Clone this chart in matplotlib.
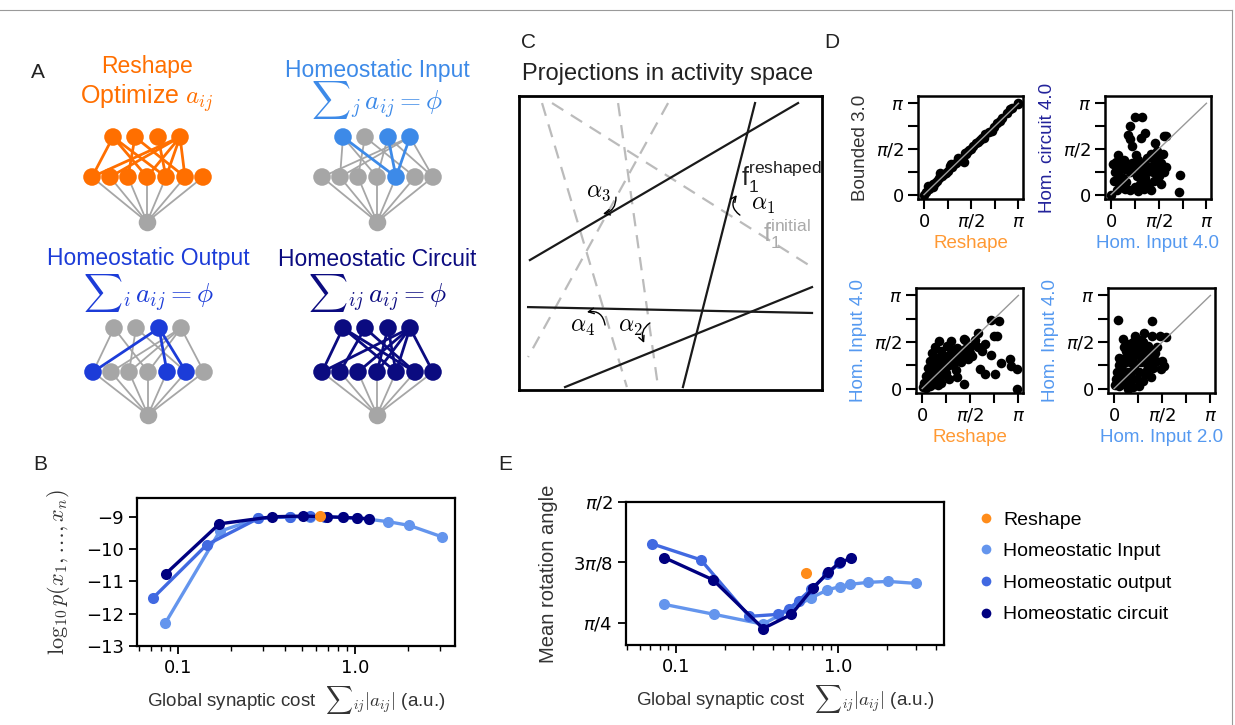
import numpy as np
import matplotlib.pyplot as plt
from matplotlib.lines import Line2D
from matplotlib.ticker import NullFormatter

plt.rcParams['font.family'] = ['Liberation Sans', 'DejaVu Sans']
plt.rcParams['mathtext.fontset'] = 'cm'

W, H = 1235, 725
PI = np.pi

# colours
c_reshape = '#ff8c1a'
c_input = 'cornflowerblue'
c_output = 'royalblue'
c_circuit = 'navy'
net_colors = ['#ff6f00', '#3d8ae8', '#1c3cd8', '#0b0b80']
gray_node = '#a6a6a6'

# ---------------- panel A: network sketches (pixel coords) ----------------
net_titles = ['Reshape', 'Homeostatic Input', 'Homeostatic Output', 'Homeostatic Circuit']
net_rules = [r'Optimize $a_{ij}$', r'${\sum}_j\, a_{ij} = \phi$',
             r'${\sum}_i\, a_{ij} = \phi$', r'${\sum}_{ij}\, a_{ij} = \phi$']
net_cx = [147, 377, 148, 377]
net_title_y = [66, 70, 259, 259]
net_rule_y = [98, 100, 293, 293]
net_top_y = [137, 137, 328, 328]
net_mid_y = [177, 177, 372, 372]
net_bot_y = [222, 222, 415, 415]
top_dx = [-34, -12, 11, 33]
mid_dx = [-55, -37, -19, 0, 19, 38, 56]
# coloured nodes (indices of top / middle row)
net_top_on = [[0, 1, 2, 3], [0, 2, 3], [2], [0, 1, 2, 3]]
net_mid_on = [[0, 1, 2, 3, 4, 5, 6], [4], [0, 4, 5], [0, 1, 2, 3, 4, 5, 6]]
# edges (top index, middle index)
net_gray_edges = [[],
                  [(0, 1), (0, 3), (1, 2), (1, 5), (2, 3), (2, 6), (3, 0), (3, 1), (3, 6)],
                  [(0, 0), (0, 3), (1, 2), (1, 5), (3, 1), (3, 2), (3, 3), (3, 6)],
                  []]
net_col_edges = [[(0, 0), (0, 3), (0, 4), (1, 2), (1, 5), (2, 4), (3, 0), (3, 1), (3, 3), (3, 4), (3, 5)],
                 [(0, 4), (2, 4), (3, 4)],
                 [(2, 0), (2, 4), (2, 5)],
                 [(0, 0), (0, 4), (0, 5), (1, 1), (1, 5), (2, 3), (2, 4), (3, 0), (3, 2), (3, 3), (3, 4), (3, 6)]]

# ---------------- panel C: projection lines (axes fractions) ----------------
solid_lines = [((0.036, 0.442), (0.921, 0.976)),
               ((0.779, 0.976), (0.541, 0.010)),
               ((0.030, 0.282), (0.967, 0.262)),
               ((0.152, 0.010), (0.967, 0.350))]
dashed_lines = [((0.076, 0.976), (0.356, 0.010)),
                ((0.109, 0.976), (0.967, 0.418)),
                ((0.327, 0.976), (0.459, 0.010)),
                ((0.492, 0.976), (0.030, 0.112))]
alpha_labels = [r'$\alpha_3$', r'$\alpha_1$', r'$\alpha_4$', r'$\alpha_2$']
alpha_pos = [(0.261, 0.675), (0.805, 0.629), (0.208, 0.214), (0.366, 0.214)]
alpha_arrow_from = [(0.320, 0.656), (0.729, 0.595), (0.284, 0.221), (0.432, 0.228)]
alpha_arrow_to = [(0.277, 0.599), (0.719, 0.663), (0.224, 0.265), (0.413, 0.160)]
alpha_rad = [-0.4, -0.5, 0.5, 0.4]

# ---------------- panel D: angles, in units of pi ----------------
d1_x = [0.00, 0.02, 0.04, 0.05, 0.07, 0.09, 0.10, 0.12, 0.14, 0.16,
        0.17, 0.19, 0.21, 0.23, 0.25, 0.27, 0.29, 0.30, 0.32, 0.34,
        0.36, 0.38, 0.40, 0.42, 0.43, 0.44, 0.46, 0.48, 0.50, 0.52,
        0.55, 0.57, 0.59, 0.61, 0.63, 0.65, 0.69, 0.72, 0.74, 0.77,
        0.80, 0.83, 0.88, 0.91, 0.93, 0.99, 1.00]
d1_y = [0.00, 0.03, 0.09, 0.06, 0.10, 0.08, 0.12, 0.13, 0.15, 0.18,
        0.24, 0.20, 0.23, 0.24, 0.26, 0.31, 0.33, 0.30, 0.33, 0.35,
        0.40, 0.38, 0.39, 0.36, 0.46, 0.44, 0.47, 0.49, 0.50, 0.53,
        0.56, 0.58, 0.60, 0.62, 0.62, 0.66, 0.69, 0.70, 0.74, 0.78,
        0.81, 0.84, 0.89, 0.94, 0.95, 0.99, 1.00]

d2_x = [0.25, 0.32, 0.20, 0.18, 0.36, 0.20, 0.31, 0.22, 0.55, 0.58,
        0.07, 0.26, 0.46, 0.03, 0.72, 0.71, 0.00,
        0.02, 0.05, 0.10, 0.14, 0.04, 0.08, 0.12, 0.15, 0.18, 0.20,
        0.22, 0.25, 0.28, 0.30, 0.32, 0.35, 0.38, 0.40, 0.42, 0.45,
        0.48, 0.50, 0.52, 0.48, 0.44, 0.36, 0.30, 0.25, 0.20, 0.15,
        0.10, 0.28, 0.35, 0.40, 0.45, 0.50, 0.55, 0.52, 0.42, 0.33,
        0.27, 0.16, 0.08, 0.06, 0.38, 0.46, 0.54, 0.58]
d2_y = [0.85, 0.85, 0.75, 0.65, 0.68, 0.61, 0.62, 0.53, 0.64, 0.64,
        0.43, 0.43, 0.56, 0.15, 0.21, 0.03, 0.00,
        0.33, 0.36, 0.30, 0.38, 0.25, 0.22, 0.18, 0.28, 0.33, 0.25,
        0.35, 0.30, 0.38, 0.28, 0.22, 0.35, 0.40, 0.30, 0.45, 0.38,
        0.28, 0.42, 0.35, 0.48, 0.25, 0.18, 0.12, 0.08, 0.05, 0.06,
        0.08, 0.04, 0.06, 0.12, 0.15, 0.20, 0.25, 0.12, 0.05, 0.30,
        0.20, 0.14, 0.12, 0.05, 0.25, 0.32, 0.45, 0.30]

d3_x = [0.72, 0.80, 0.58, 0.75, 0.78, 0.43, 0.72, 0.91, 0.82, 0.92,
        0.99, 0.60, 0.65, 0.76, 0.36, 0.44, 0.99,
        0.18, 0.30, 0.13, 0.26, 0.10, 0.20, 0.30, 0.36, 0.08, 0.15,
        0.22, 0.28, 0.34, 0.40, 0.45, 0.50, 0.55, 0.06, 0.12, 0.18,
        0.24, 0.30, 0.38, 0.44, 0.50, 0.04, 0.10, 0.15, 0.20, 0.26,
        0.32, 0.40, 0.02, 0.06, 0.10, 0.14, 0.20, 0.25, 0.01, 0.04,
        0.08, 0.12, 0.16, 0.20, 0.48, 0.52, 0.35, 0.62, 0.58, 0.65,
        0.28, 0.08, 0.45, 0.55]
d3_y = [0.74, 0.72, 0.60, 0.56, 0.56, 0.53, 0.36, 0.32, 0.27, 0.24,
        0.21, 0.21, 0.16, 0.16, 0.12, 0.05, -0.01,
        0.51, 0.51, 0.45, 0.46, 0.38, 0.40, 0.42, 0.44, 0.30, 0.33,
        0.35, 0.36, 0.38, 0.40, 0.42, 0.45, 0.48, 0.22, 0.25, 0.28,
        0.30, 0.30, 0.32, 0.36, 0.38, 0.14, 0.16, 0.20, 0.22, 0.24,
        0.25, 0.28, 0.06, 0.08, 0.10, 0.12, 0.14, 0.17, 0.02, 0.01,
        0.03, 0.05, 0.04, 0.06, 0.32, 0.35, 0.20, 0.40, 0.45, 0.48,
        0.10, 0.19, 0.52, 0.52]

d4_x = [0.04, 0.39, 0.31, 0.39, 0.48, 0.54, 0.09, 0.52, 0.49, 0.38,
        0.26, 0.14, 0.05,
        0.10, 0.15, 0.20, 0.25, 0.30, 0.35, 0.12, 0.18, 0.24, 0.30,
        0.36, 0.42, 0.45, 0.08, 0.14, 0.20, 0.26, 0.32, 0.38, 0.44,
        0.05, 0.10, 0.16, 0.22, 0.28, 0.34, 0.40, 0.03, 0.08, 0.14,
        0.20, 0.26, 0.32, 0.02, 0.06, 0.12, 0.18, 0.24, 0.30, 0.01,
        0.05, 0.10, 0.16, 0.20, 0.34, 0.42, 0.50, 0.12, 0.28, 0.22]
d4_y = [0.74, 0.72, 0.60, 0.56, 0.56, 0.55, 0.53, 0.24, 0.21, 0.12,
        0.03, 0.00, 0.33,
        0.45, 0.48, 0.50, 0.48, 0.50, 0.46, 0.40, 0.42, 0.40, 0.42,
        0.40, 0.38, 0.45, 0.32, 0.35, 0.34, 0.36, 0.34, 0.32, 0.30,
        0.25, 0.27, 0.28, 0.26, 0.28, 0.26, 0.22, 0.18, 0.20, 0.18,
        0.20, 0.18, 0.16, 0.10, 0.12, 0.10, 0.12, 0.10, 0.08, 0.04,
        0.03, 0.05, 0.05, 0.02, 0.20, 0.28, 0.30, 0.14, 0.52, 0.56]

d_panels = [(d1_x, d1_y, 'Reshape', 'Bounded 3.0'),
            (d2_x, d2_y, 'Hom. Input 4.0', 'Hom. circuit 4.0'),
            (d3_x, d3_y, 'Reshape', 'Hom. Input 4.0'),
            (d4_x, d4_y, 'Hom. Input 2.0', 'Hom. Input 4.0')]
d_label_colors = {'Reshape': '#ff9933', 'Bounded 3.0': '#333333',
                  'Hom. Input 4.0': '#5599f0', 'Hom. Input 2.0': '#5599f0',
                  'Hom. circuit 4.0': '#22229a'}

# ---------------- panel B: log-likelihood vs cost ----------------
b_in_x = [0.0845, 0.172, 0.284, 0.43, 0.56, 0.68, 0.86, 1.02, 1.2, 1.53, 2.03, 3.09]
b_in_y = [-12.30, -9.45, -9.05, -9.0, -9.0, -9.0, -9.02, -9.05, -9.08, -9.15, -9.27, -9.62]
b_out_x = [0.072, 0.145, 0.284, 0.43, 0.56, 0.68]
b_out_y = [-11.52, -9.87, -9.05, -9.0, -8.99, -9.0]
b_circ_x = [0.085, 0.171, 0.341, 0.51, 0.69, 0.85, 1.02, 1.2]
b_circ_y = [-10.77, -9.22, -9.0, -8.98, -9.0, -9.02, -9.04, -9.06]
b_res_x = [0.634]
b_res_y = [-8.98]

# ---------------- panel E: rotation angle vs cost ----------------
e_in_x = [0.085, 0.173, 0.345, 0.676, 0.859, 1.023, 1.178, 1.53, 2.03, 3.03]
e_in_y = [0.906, 0.841, 0.777, 0.946, 1.000, 1.021, 1.036, 1.049, 1.055, 1.042]
e_out_x = [0.0712, 0.143, 0.2835, 0.4275, 0.499, 0.573, 0.685, 0.859, 1.013]
e_out_y = [1.300, 1.195, 0.828, 0.841, 0.878, 0.931, 1.006, 1.103, 1.172]
e_circ_x = [0.085, 0.170, 0.3455, 0.516, 0.702, 0.867, 1.023, 1.195]
e_circ_y = [1.210, 1.065, 0.749, 0.841, 1.013, 1.114, 1.178, 1.204]
e_res_x = [0.638]
e_res_y = [1.107]

legend_labels = ['Reshape', 'Homeostatic Input', 'Homeostatic output', 'Homeostatic circuit']
legend_colors = [c_reshape, c_input, c_output, c_circuit]


def fig_rect(x0, y0, x1, y1):
    return [x0 / W, 1 - y1 / H, (x1 - x0) / W, (y1 - y0) / H]


def dejavu_ticks(ax, size):
    for lab in ax.get_xticklabels() + ax.get_yticklabels():
        lab.set_fontfamily('DejaVu Sans')
        lab.set_fontsize(size)


fig = plt.figure(figsize=(W / 100, H / 100), dpi=100)

# thin frame at top and right
fig.add_artist(Line2D([0, 1232 / W], [1 - 10 / H, 1 - 10 / H], color='#9a9a9a', lw=0.8))
fig.add_artist(Line2D([1232 / W, 1232 / W], [0, 1 - 10 / H], color='#9a9a9a', lw=0.8))

# panel letters
for lab, (px, py) in zip('ABCDE', [(38, 72), (40, 465), (528, 42), (832, 42), (505, 465)]):
    fig.text(px / W, 1 - py / H, lab, fontsize=15, color='#222222', ha='center', va='center')

# ---------------- A ----------------
ax_a = fig.add_axes(fig_rect(0, 30, 500, 450))
ax_a.set_xlim(0, 500)
ax_a.set_ylim(450, 30)
ax_a.axis('off')
for k in range(4):
    cx, col = net_cx[k], net_colors[k]
    tx = [cx + d for d in top_dx]
    mx = [cx + d for d in mid_dx]
    ty, my, by = net_top_y[k], net_mid_y[k], net_bot_y[k]
    for x in mx:
        ax_a.plot([x, cx], [my, by], color=gray_node, lw=1.3, zorder=1)
    for i, j in net_gray_edges[k]:
        ax_a.plot([tx[i], mx[j]], [ty, my], color=gray_node, lw=1.3, zorder=1)
    for i, j in net_col_edges[k]:
        ax_a.plot([tx[i], mx[j]], [ty, my], color=col, lw=2.0, zorder=2)
    tc = [col if i in net_top_on[k] else gray_node for i in range(len(tx))]
    mc = [col if j in net_mid_on[k] else gray_node for j in range(len(mx))]
    ax_a.scatter(tx, [ty] * len(tx), s=160, c=tc, zorder=3, linewidths=0)
    ax_a.scatter(mx, [my] * len(mx), s=160, c=mc, zorder=3, linewidths=0)
    ax_a.scatter([cx], [by], s=160, c=gray_node, zorder=3, linewidths=0)
    ax_a.text(cx, net_title_y[k], net_titles[k], color=col, fontsize=16.5,
              ha='center', va='center')
    rule_size = 18 if k == 0 else 19.5
    ax_a.text(cx, net_rule_y[k], net_rules[k], color=col, fontsize=rule_size,
              ha='center', va='center')

# ---------------- C ----------------
ax_c = fig.add_axes(fig_rect(519, 96, 822, 390))
ax_c.set_xlim(0, 1)
ax_c.set_ylim(0, 1)
ax_c.set_xticks([])
ax_c.set_yticks([])
for sp in ax_c.spines.values():
    sp.set_linewidth(2)
for (x0, y0), (x1, y1) in dashed_lines:
    ax_c.plot([x0, x1], [y0, y1], color='#bbbbbb', lw=1.6, ls=(0, (6, 4)))
for (x0, y0), (x1, y1) in solid_lines:
    ax_c.plot([x0, x1], [y0, y1], color='#1a1a1a', lw=1.6)
for lab, pos, a0, a1, rad in zip(alpha_labels, alpha_pos, alpha_arrow_from,
                                 alpha_arrow_to, alpha_rad):
    ax_c.text(pos[0], pos[1], lab, fontsize=17, ha='center', va='center')
    ax_c.annotate('', xy=a1, xytext=a0,
                  arrowprops=dict(arrowstyle='->', lw=1.0, color='k',
                                  connectionstyle='arc3,rad=%s' % rad,
                                  shrinkA=0, shrinkB=0))
ax_c.text(0.733, 0.725, r'$\mathregular{f_1^{reshaped}}$', fontsize=18, color='#222222',
          ha='left', va='center')
ax_c.text(0.806, 0.531, r'$\mathregular{f_1^{initial}}$', fontsize=18, color='#aaaaaa',
          ha='left', va='center')
fig.text(668 / W, 1 - 74 / H, 'Projections in activity space', fontsize=17,
         color='#222222', ha='center', va='center')

# ---------------- D ----------------
d_rects = [fig_rect(918, 96, 1023, 199), fig_rect(1105, 96, 1211, 199),
           fig_rect(916, 288, 1023, 393), fig_rect(1108, 288, 1215, 393)]
for rect, (xs, ys, xl, yl) in zip(d_rects, d_panels):
    ax = fig.add_axes(rect)
    ax.scatter(np.array(xs) * PI, np.array(ys) * PI, s=48, color='k', linewidths=0, zorder=2)
    ax.plot([0, PI], [0, PI], color='#999999', lw=1.0, zorder=3)
    ax.set_xlim(-0.2, PI + 0.15)
    ax.set_ylim(-0.15, PI + 0.25)
    ticks = [0, PI / 4, PI / 2, 3 * PI / 4, PI]
    ticklabels = ['0', '', r'$\pi/2$', '', r'$\pi$']
    ax.set_xticks(ticks)
    ax.set_yticks(ticks)
    ax.set_xticklabels(ticklabels, math_fontfamily='dejavusans')
    ax.set_yticklabels(ticklabels, math_fontfamily='dejavusans')
    dejavu_ticks(ax, 13)
    ax.tick_params(length=7, width=1.5, direction='out', pad=3)
    for sp in ax.spines.values():
        sp.set_linewidth(1.8)
    ax.set_xlabel(xl, fontsize=13.5, color=d_label_colors[xl], labelpad=3)
    ax.set_ylabel(yl, fontsize=13.5, color=d_label_colors[yl], labelpad=5)

# ---------------- B and E ----------------
cost_label = r'Global synaptic cost  ${\sum}_{ij}|a_{ij}|$ (a.u.)'


def style_cost_axis(ax, xlim):
    ax.set_xscale('log')
    ax.set_xlim(*xlim)
    ax.set_xticks([0.1, 1.0])
    ax.set_xticklabels(['0.1', '1.0'])
    ax.xaxis.set_minor_formatter(NullFormatter())
    ax.tick_params(which='major', length=6, width=1.3, direction='out')
    ax.tick_params(which='minor', length=3.5, width=1.0, direction='out')
    for sp in ax.spines.values():
        sp.set_linewidth(1.6)
    ax.set_xlabel(cost_label, fontsize=13.5, color='#333333', labelpad=5)


series_style = dict(lw=2.4, marker='o', ms=8, mew=0)

ax_b = fig.add_axes(fig_rect(137, 498, 455, 646))
ax_b.plot(b_in_x, b_in_y, color=c_input, zorder=2, **series_style)
ax_b.plot(b_out_x, b_out_y, color=c_output, zorder=3, **series_style)
ax_b.plot(b_circ_x, b_circ_y, color=c_circuit, zorder=4, **series_style)
ax_b.plot(b_res_x, b_res_y, ls='', marker='o', ms=8, mew=0, color=c_reshape, zorder=5)
style_cost_axis(ax_b, (0.0586, 3.67))
ax_b.set_ylim(-13, -8.42)
ax_b.set_yticks([-9, -10, -11, -12, -13])
ax_b.set_yticklabels(['\u22129', '\u221210', '\u221211', '\u221212', '\u221213'])
dejavu_ticks(ax_b, 13)
ax_b.set_ylabel(r'$\log_{10} p(x_1,\ldots,x_n)$', fontsize=16, color='#333333', labelpad=10)

ax_e = fig.add_axes(fig_rect(626, 502, 944, 645))
ax_e.plot(e_in_x, e_in_y, color=c_input, zorder=2, **series_style)
ax_e.plot(e_out_x, e_out_y, color=c_output, zorder=3, **series_style)
ax_e.plot(e_circ_x, e_circ_y, color=c_circuit, zorder=4, **series_style)
ax_e.plot(e_res_x, e_res_y, ls='', marker='o', ms=8, mew=0, color=c_reshape, zorder=5)
style_cost_axis(ax_e, (0.0495, 4.48))
ax_e.set_ylim(0.642, PI / 2)
ax_e.set_yticks([PI / 4, 3 * PI / 8, PI / 2])
ax_e.set_yticklabels([r'$\pi/4$', r'$3\pi/8$', r'$\pi/2$'], math_fontfamily='dejavusans')
dejavu_ticks(ax_e, 13)
ax_e.set_ylabel('Mean rotation angle', fontsize=14.5, color='#333333', labelpad=11)

handles = [Line2D([], [], ls='', marker='o', ms=7, mew=0, color=c) for c in legend_colors]
fig.legend(handles, legend_labels, loc='upper left', bbox_to_anchor=(978 / W, 1 - 511 / H),
           frameon=False, fontsize=14, handlelength=0.8, handletextpad=0.5,
           labelspacing=0.72, borderaxespad=0, borderpad=0)

fig.savefig('out.png', dpi=100)
